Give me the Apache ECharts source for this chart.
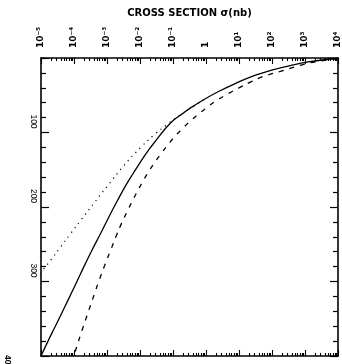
<!DOCTYPE html>
<html><head><meta charset="utf-8">
<script src="https://cdn.jsdelivr.net/npm/echarts@6/dist/echarts.min.js"></script>
<style>html,body{margin:0;padding:0;background:#fff}#c{width:342px;height:364px}</style>
</head><body><div id="c"></div>
<script>
// Heavy quark mass (GeV/c^2) and cross section (nb)
const massSolid  = [1, 5, 10, 16, 25, 35, 45, 56, 67, 75, 83, 95, 108, 123, 139, 155, 172, 191, 213, 235, 258, 280, 302, 325, 347, 370, 400];
const sigmaSolid = [7.1e3, 1.4e3, 3.8e2, 1.05e2, 24, 7.1, 2.4, 0.85, 0.34, 0.19, 0.107, 5.8e-2, 3.4e-2, 1.86e-2, 1.05e-2, 6.2e-3, 3.6e-3, 2.1e-3, 1.15e-3, 6.5e-4, 3.5e-4, 2.0e-4, 1.17e-4, 6.6e-5, 3.8e-5, 2.1e-5, 1.0e-5];

const massDashed  = [1, 5, 10, 18, 25, 32, 40, 48, 57, 65, 75, 84, 94, 105, 117, 128, 139, 152, 166, 180, 191, 204, 222, 240, 258, 276, 300, 316, 343, 370, 385, 400];
const sigmaDashed = [9.5e3, 2.1e3, 7.1e2, 1.78e2, 52, 23, 10, 4.6, 2.1, 1.17, 0.60, 0.35, 0.20, 0.115, 0.068, 0.044, 0.029, 0.0186, 0.012, 8.1e-3, 6.0e-3, 4.3e-3, 2.75e-3, 1.86e-3, 1.29e-3, 8.9e-4, 5.6e-4, 4.2e-4, 2.6e-4, 1.62e-4, 1.26e-4, 9.8e-5];

const massDotted  = [56, 67, 77, 90, 103, 120, 144, 172, 195, 217, 235, 253, 271, 289];
const sigmaDotted = [0.85, 0.355, 0.158, 0.063, 0.0269, 0.0105, 3.3e-3, 1.02e-3, 4.0e-4, 1.66e-4, 8.1e-5, 4.0e-5, 2.0e-5, 9.5e-6];

const sigmaTickLabels = ['10⁻⁵', '10⁻⁴', '10⁻³', '10⁻²', '10⁻¹', '1', '10¹', '10²', '10³', '10⁴'];
const massTickLabels = ['', '100', '200', '300', '400'];

const SIG_MIN = 1e-5, SIG_MAX = 1e4;
const majorVals = [], minorVals = [];
for (let e = -5; e <= 4; e++) majorVals.push(Number('1e' + e));
for (let e = -5; e < 4; e++) for (let k = 2; k <= 9; k++) minorVals.push(Number(k + 'e' + e));

const FONT = 'DejaVu Sans';
const TICKFONT = 'Liberation Sans';
const pair = (xs, ys) => xs.map((m, i) => [ys[i], m]);

function logAxis(pos, major, labels) {
  return {
    type: 'log', logBase: 10, min: SIG_MIN, max: SIG_MAX, position: pos, offset: 0,
    axisLine: { show: true, onZero: false, lineStyle: { color: major ? '#000' : 'rgba(0,0,0,0)', width: 1.6 } },
    axisTick: { show: true, inside: true, length: major ? 6 : 3,
      customValues: major ? majorVals : minorVals, lineStyle: { color: '#000', width: 1.1 } },
    axisLabel: labels ? {
      show: true, customValues: majorVals, rotate: -90, margin: 10,
      fontFamily: FONT, fontSize: 9, fontWeight: 'bold', color: '#000',
      formatter: v => sigmaTickLabels[Math.round(Math.log10(v)) + 5]
    } : { show: true, customValues: majorVals, formatter: () => '', fontSize: 1 },
    splitLine: { show: false }, minorTick: { show: false }
  };
}
function massAxis(pos, labels) {
  return {
    type: 'value', min: 0, max: 400, interval: 100, inverse: true, position: pos,
    axisLine: { show: true, onZero: false, lineStyle: { color: '#000', width: 1.6 } },
    axisTick: { show: true, inside: true, length: 8, lineStyle: { color: '#000', width: 1.2 } },
    minorTick: { show: true, splitNumber: 5, length: 5, lineStyle: { color: '#000', width: 1.2 } },
    axisLabel: labels ? {
      show: true, rotate: -90, margin: 3,
      fontFamily: TICKFONT, fontSize: 8.5, color: '#000',
      formatter: v => {
        const t = massTickLabels[Math.round(v / 100)];
        if (!t) return '';
        return v === 400 ? '{c|' + t + '}' : '{a|' + t + '}';
      },
      rich: {
        a: { fontFamily: TICKFONT, fontSize: 8.5, color: '#000', padding: [0, 22, 0, 0] },
        c: { fontFamily: TICKFONT, fontSize: 8.5, fontWeight: 'bold', color: '#000', padding: [26, 0, 0, 12] }
      }
    } : { show: false },
    splitLine: { show: false }
  };
}

const xTop = logAxis('top', true, true);
xTop.name = 'CROSS SECTION σ(nb)';
xTop.nameLocation = 'middle';
xTop.nameGap = 37;
xTop.nameTextStyle = { fontFamily: FONT, fontSize: 10, fontWeight: 'bold', color: '#000' };

const yLeft = massAxis('left', true);
yLeft.name = 'HEAVY QUARK MASS (GeV/c**2)';
yLeft.nameLocation = 'middle';
yLeft.nameRotate = -90;
yLeft.nameGap = 18;
yLeft.nameTextStyle = { fontFamily: FONT, fontSize: 10, fontWeight: 'bold', color: '#000' };

const chart = echarts.init(document.getElementById('c'), null, { renderer: 'canvas' });
chart.setOption({
  animation: false,
  backgroundColor: '#fff',
  grid: { left: 41, right: 4, top: 58, bottom: 8, containLabel: false, outerBoundsMode: 'none' },
  xAxis: [xTop, logAxis('bottom', true, false), logAxis('top', false, false), logAxis('bottom', false, false)],
  yAxis: [yLeft, massAxis('right', false)],
  series: [
    { type: 'line', xAxisIndex: 0, yAxisIndex: 0, data: pair(massSolid, sigmaSolid), smooth: 0.4,
      showSymbol: false, clip: true, lineStyle: { color: '#000', width: 1.3, type: 'solid' } },
    { type: 'line', xAxisIndex: 0, yAxisIndex: 0, data: pair(massDashed, sigmaDashed), smooth: 0.4,
      showSymbol: false, clip: true, lineStyle: { color: '#000', width: 1.3, type: [5, 6] } },
    { type: 'line', xAxisIndex: 0, yAxisIndex: 0, data: pair(massDotted, sigmaDotted), smooth: 0.4,
      showSymbol: false, clip: true, lineStyle: { color: '#000', width: 1.2, type: [1.2, 4.5] } }
  ]
});
</script></body></html>
